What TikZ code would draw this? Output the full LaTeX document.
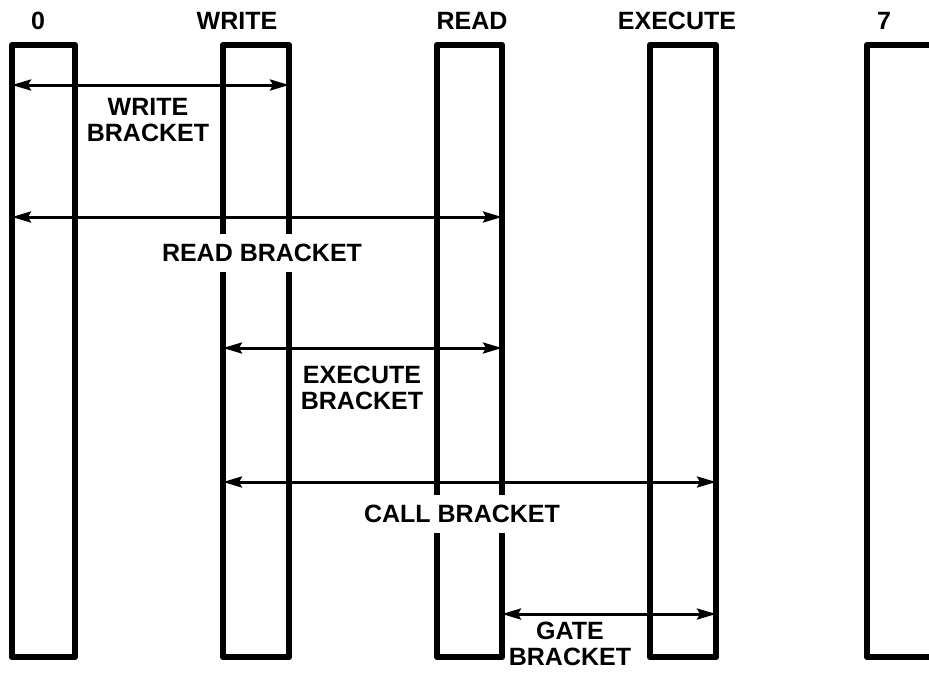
\documentclass[tikz,border=0pt]{standalone}
\usepackage{fontspec}
\setmainfont{Liberation Sans}
\usetikzlibrary{arrows.meta}
\begin{document}
\begin{tikzpicture}[x=1pt,y=-1pt,
  col/.style={draw=black,line width=6.5pt,line join=round,inner sep=0pt,outer sep=0pt,minimum height=612pt},
  lbl/.style={font=\fontsize{25}{26}\selectfont\bfseries,align=center,inner sep=0pt},
  gaplbl/.style={lbl,fill=white,minimum height=38pt,inner xsep=3pt},
  brk/.style={line width=3pt,{Stealth[length=19pt,width=11pt,inset=3pt]}-{Stealth[length=19pt,width=11pt,inset=3pt]}}]
\useasboundingbox (0,0) rectangle (929,673);
\clip (0,0) rectangle (929,673);
% columns
\node[col,minimum width=63pt] (b0) at (43.5,351) {};
\node[col,minimum width=66pt] (bw) at (256,351) {};
\node[col,minimum width=65pt] (br) at (469.5,351) {};
\node[col,minimum width=66pt] (bx) at (683,351) {};
\node[col,minimum width=70pt] (b7) at (902,351) {};
% column titles
\node[lbl] (t0) at (38,21) {0};
\node[lbl] (tw) at (237,21) {WRITE};
\node[lbl] (tr) at (472,21) {READ};
\node[lbl] (tx) at (677,21) {EXECUTE};
\node[lbl] (t7) at (884,21) {7};
% bracket end points
\coordinate (w1) at (b0.west |- 0,85);
\coordinate (w2) at (bw.east |- 0,85);
\coordinate (r1) at (b0.west |- 0,217);
\coordinate (r2) at (br.east |- 0,217);
\coordinate (e1) at (bw.west |- 0,348);
\coordinate (e2) at (br.east |- 0,348);
\coordinate (c1) at (bw.west |- 0,482);
\coordinate (c2) at (bx.east |- 0,482);
\coordinate (g1) at (br.east |- 0,614);
\coordinate (g2) at (bx.east |- 0,614);
% labels (gaps in columns made by white labels)
\node[lbl] (lw) at (148,120) {WRITE\\BRACKET};
\node[gaplbl] (lr) at (262,253) {READ BRACKET};
\node[lbl] (le) at (362,388) {EXECUTE\\BRACKET};
\node[gaplbl] (lc) at (462,514) {CALL BRACKET};
\node[lbl] (lg) at (570,644) {GATE\\BRACKET};
% brackets
\draw[brk] (w1) -- (w2);
\draw[brk] (r1) -- (r2);
\draw[brk] (e1) -- (e2);
\draw[brk] (c1) -- (c2);
\draw[brk] (g1) -- (g2);
\end{tikzpicture}
\end{document}
